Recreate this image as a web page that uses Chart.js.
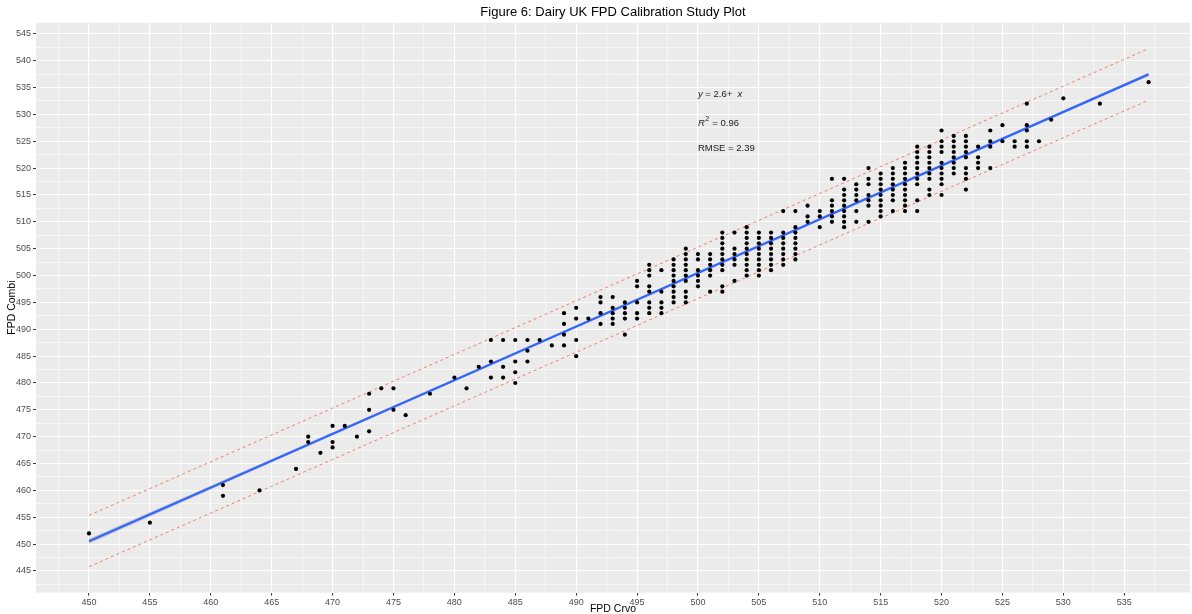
<!DOCTYPE html>
<html>
<head>
<meta charset="utf-8">
<script src="https://cdn.jsdelivr.net/npm/chart.js@4"></script>
<style>
html,body{margin:0;padding:0;background:#ffffff;}
#wrap{width:1192px;height:614px;}
</style>
</head>
<body>
<div id="wrap"><canvas id="c" width="1192" height="614"></canvas></div>
<script>
// ---------------- DATA ----------------
const chartTitle = 'Figure 6: Dairy UK FPD Calibration Study Plot';
const xAxisTitle = 'FPD Crvo';
const yAxisTitle = 'FPD Combi';
const xTickLabels = [450,455,460,465,470,475,480,485,490,495,500,505,510,515,520,525,530,535];
const yTickLabels = [445,450,455,460,465,470,475,480,485,490,495,500,505,510,515,520,525,530,535,540,545];

// FPD Crvo values (x) and the FPD Combi readings (y) observed at each
const crvoValues = [450,455,461,464,467,468,469,470,471,472,473,474,475,476,478,480,481,482,483,484,485,486,487,488,489,490,491,492,493,494,495,496,497,498,499,500,501,502,503,504,505,506,507,508,509,510,511,512,513,514,515,516,517,518,519,520,521,522,523,524,525,526,527,528,529,530,533,537];
const combiByCrvo = [
  [452],[454],[461,459],[460],[464],[470,469],[467],[472,469,468],[472],[470],
  [478,475,471],[479],[479,475],[474],[478],[481],[479],[483],[488,484,481],[488,483,481],
  [488,484,482,480],[488,486,484],[488],[487],[493,491,489,487],[494,492,488,485],[492],
  [496,495,493,491],[496,494,493,492,491],[495,494,493,492,489],[499,498,495,493,492],
  [502,501,500,498,497,495,494,493],[501,497,495,494,493],
  [503,502,501,500,499,498,497,496,495],[505,504,503,502,501,500,499,497,496,495],
  [504,503,501,500,499,498],[504,503,502,501,500,497],
  [508,507,506,505,504,503,502,501,498,497],[508,505,504,503,502,499],
  [509,508,507,506,505,504,503,502,501,500],[508,507,506,505,504,503,502,501,500],
  [508,507,506,505,504,503,502,501],[512,508,507,506,505,504,503,502],
  [512,509,508,507,506,505,504,503],[513,511,510],[512,511,509],
  [518,514,513,512,511,510],[518,516,515,514,513,512,511,510,509],
  [517,516,515,514,512,510],[520,518,517,515,514,513,510],
  [519,518,517,516,515,514,513,512,511],[520,519,518,517,516,515,514,512],
  [521,520,519,518,517,516,515,514,513,512],[524,523,522,521,520,519,518,517,514,512],
  [524,523,522,521,520,519,518,516,515],[527,525,524,523,521,520,519,518,517,515],
  [526,525,524,523,522,521,520,519],[526,525,524,523,522,520,519,518,516],
  [524,522,521,520],[527,525,524,520],[528,525],[525,524],[532,528,527,525,524],
  [525],[529],[533],[532],[536]
];

// fitted line (blue), its confidence band (grey) and the dashed limits (red)
const fitX = [450, 537];
const fitY = [450.55, 537.45];
const bandX = [450, 465, 480, 495, 510, 525, 537];
const bandLower = [450.08, 465.25, 480.37, 495.45, 510.40, 525.32, 537.13];
const bandUpper = [451.02, 465.85, 480.73, 495.65, 510.60, 525.68, 537.77];
const limitX = [450, 537];
const upperLimit = [455.35, 542.25];
const lowerLimit = [445.80, 532.65];

// annotation texts
const eqIntercept = '2.6';
const rSquared = '0.96';
const rmse = '2.39';

// ---------------- BUILD ----------------
const points = [];
crvoValues.forEach((x, i) => combiByCrvo[i].forEach(y => points.push({x, y})));
const toXY = (xs, ys) => xs.map((x, i) => ({x, y: ys[i]}));

const X_MIN = 445.65, X_MAX = 540.39, Y_MIN = 440.98, Y_MAX = 547.07;

function withMinor(majors, lo, hi) {
  const out = [];
  const step = majors[1] - majors[0];
  const first = majors[0] - step / 2;
  if (first >= lo) out.push(first);
  majors.forEach(v => { out.push(v); const m = v + step / 2; if (m <= hi) out.push(m); });
  return out;
}
const xMajorSet = new Set(xTickLabels);
const yMajorSet = new Set(yTickLabels);
const xAllTicks = withMinor(xTickLabels, X_MIN, X_MAX);
const yAllTicks = withMinor(yTickLabels, Y_MIN, Y_MAX);

const FONT = '"Liberation Sans", Arial, Helvetica, sans-serif';

const panelBg = {
  id: 'panelBg',
  beforeDraw(chart) {
    const {ctx, chartArea: a} = chart;
    ctx.save();
    ctx.fillStyle = '#EBEBEB';
    ctx.fillRect(a.left, a.top, a.right - a.left, a.bottom - a.top);
    ctx.restore();
  }
};

const statsText = {
  id: 'statsText',
  afterDatasetsDraw(chart) {
    const {ctx} = chart;
    const xs = chart.scales.x, ys = chart.scales.y;
    const x0 = xs.getPixelForValue(500);
    ctx.save();
    ctx.fillStyle = '#1A1A1A';
    ctx.textBaseline = 'middle';
    ctx.textAlign = 'left';
    // line 1: y = 2.6+ x
    let y1 = ys.getPixelForValue(533.7);
    let cx = x0;
    ctx.font = 'italic 9.5px ' + FONT;
    ctx.fillText('y', cx, y1); cx += ctx.measureText('y').width;
    ctx.font = '9.5px ' + FONT;
    const mid = ' = ' + eqIntercept + '+  ';
    ctx.fillText(mid, cx, y1); cx += ctx.measureText(mid).width;
    ctx.font = 'italic 9.5px ' + FONT;
    ctx.fillText('x', cx, y1);
    // line 2: R^2 = 0.96
    let y2 = ys.getPixelForValue(528.4);
    cx = x0;
    ctx.font = 'italic 9.5px ' + FONT;
    ctx.fillText('R', cx, y2); cx += ctx.measureText('R').width;
    ctx.font = '7px ' + FONT;
    ctx.fillText('2', cx + 0.5, y2 - 4); cx += ctx.measureText('2').width + 1;
    ctx.font = '9.5px ' + FONT;
    ctx.fillText(' = ' + rSquared, cx, y2);
    // line 3: RMSE
    let y3 = ys.getPixelForValue(523.7);
    ctx.fillText('RMSE = ' + rmse, x0, y3);
    ctx.restore();
  }
};

const tickFont = {family: FONT, size: 9};

new Chart(document.getElementById('c'), {
  type: 'scatter',
  data: {
    datasets: [
      {label: 'points', data: points, pointRadius: 2.1, pointHoverRadius: 2.1,
       backgroundColor: '#000000', borderWidth: 0, showLine: false},
      {type: 'line', label: 'fit', data: toXY(fitX, fitY), borderColor: '#3366FF',
       borderWidth: 2.2, pointRadius: 0, fill: false, tension: 0},
      {type: 'line', label: 'upper', data: toXY(limitX, upperLimit), borderColor: '#F07F6B',
       borderWidth: 1, borderDash: [3, 3], pointRadius: 0, fill: false, tension: 0},
      {type: 'line', label: 'lower', data: toXY(limitX, lowerLimit), borderColor: '#F07F6B',
       borderWidth: 1, borderDash: [3, 3], pointRadius: 0, fill: false, tension: 0},
      {type: 'line', label: 'bandUpper', data: toXY(bandX, bandUpper), borderWidth: 0,
       borderColor: 'rgba(0,0,0,0)', pointRadius: 0, fill: '+1',
       backgroundColor: 'rgba(153,153,153,0.45)', tension: 0},
      {type: 'line', label: 'bandLower', data: toXY(bandX, bandLower), borderWidth: 0,
       borderColor: 'rgba(0,0,0,0)', pointRadius: 0, fill: false, tension: 0}
    ]
  },
  options: {
    responsive: false,
    animation: false,
    devicePixelRatio: 1,
    events: [],
    layout: {padding: 0},
    plugins: {
      legend: {display: false},
      tooltip: {enabled: false},
      title: {
        display: true, text: chartTitle, fullSize: false, color: '#000000',
        font: {family: FONT, size: 13, weight: 'normal', lineHeight: 1.2},
        padding: {top: 4.2, bottom: 2.9}
      }
    },
    scales: {
      x: {
        type: 'linear', min: X_MIN, max: X_MAX,
        afterBuildTicks(scale) { scale.ticks = xAllTicks.map(v => ({value: v})); },
        afterFit(scale) { scale.height = 21.4; },
        border: {display: false},
        grid: {
          color: '#FFFFFF',
          lineWidth: ctx => (ctx.tick && xMajorSet.has(ctx.tick.value)) ? 1.1 : 0.55,
          tickColor: ctx => (ctx.tick && xMajorSet.has(ctx.tick.value)) ? '#333333' : 'rgba(0,0,0,0)',
          tickLength: 3, tickWidth: 1, drawTicks: true
        },
        ticks: {
          autoSkip: false, maxRotation: 0, minRotation: 0, padding: 1.5,
          color: '#4D4D4D', font: tickFont,
          callback: v => xMajorSet.has(v) ? String(v) : ''
        },
        title: {
          display: true, text: xAxisTitle, color: '#000000',
          font: {family: FONT, size: 10.5, lineHeight: 1}, padding: {top: 0, bottom: -0.5}
        }
      },
      y: {
        type: 'linear', min: Y_MIN, max: Y_MAX,
        afterBuildTicks(scale) { scale.ticks = yAllTicks.map(v => ({value: v})); },
        afterFit(scale) { scale.width = 36; },
        border: {display: false},
        grid: {
          color: '#FFFFFF',
          lineWidth: ctx => (ctx.tick && yMajorSet.has(ctx.tick.value)) ? 1.1 : 0.55,
          tickColor: ctx => (ctx.tick && yMajorSet.has(ctx.tick.value)) ? '#333333' : 'rgba(0,0,0,0)',
          tickLength: 3, tickWidth: 1, drawTicks: true
        },
        ticks: {
          autoSkip: false, padding: 2,
          color: '#4D4D4D', font: tickFont,
          callback: v => yMajorSet.has(v) ? String(v) : ''
        },
        title: {
          display: true, text: yAxisTitle, color: '#000000',
          font: {family: FONT, size: 10.5, lineHeight: 1}, padding: {top: 6.5, bottom: 0}
        }
      }
    }
  },
  plugins: [panelBg, statsText]
});
</script>
</body>
</html>
